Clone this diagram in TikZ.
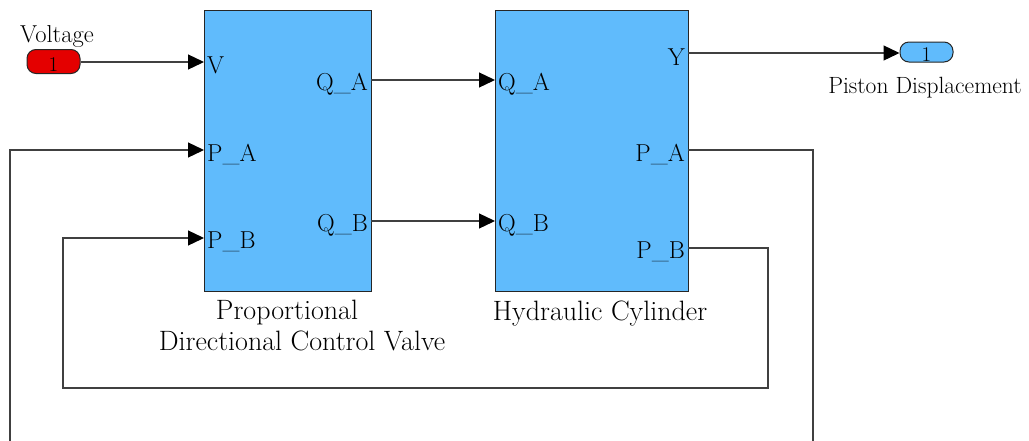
\documentclass[tikz,border=0pt]{standalone}
\usepackage{fontspec}
\usetikzlibrary{arrows.meta}
\definecolor{blockblue}{RGB}{96,187,252}
\definecolor{portred}{RGB}{228,0,0}
\tikzset{
  block/.style={draw=black!85, line width=1.3pt, fill=blockblue, minimum width=#1, minimum height=281pt, inner sep=0pt},
  port/.style={draw=black!85, line width=1pt, rounded corners=9pt, minimum width=53pt, inner sep=0pt},
  plabel/.style={inner sep=0pt, font=\fontsize{24.5}{28}\selectfont},
  bname/.style={inner sep=0pt, anchor=base, font=\fontsize{28}{31}\selectfont},
  sig/.style={draw=black!75, line width=1.3pt},
  arr/.style={sig, -{Triangle[length=16pt,width=15pt,color=black]}}
}
\begin{document}
\begin{tikzpicture}[x=1pt,y=-1pt]
\useasboundingbox (0,0) rectangle (1029,440);
\clip (0,0) rectangle (1029,440);

% blocks
\node[block=167pt, anchor=north west] (valve) at (204,10) {};
\node[block=193pt, anchor=north west] (cyl) at (495,10) {};

% ports of valve
\coordinate (vV)  at (204,62);
\coordinate (vPA) at (204,150);
\coordinate (vPB) at (204,238);
\coordinate (vQA) at (371,80);
\coordinate (vQB) at (371,221);
% ports of cylinder
\coordinate (cQA) at (495,80);
\coordinate (cQB) at (495,221);
\coordinate (cY)  at (688,53);
\coordinate (cPA) at (688,150);
\coordinate (cPB) at (688,248);

% port labels
\node[plabel, anchor=west] at (207,65) {V};
\node[plabel, anchor=west] at (207,154) {P\_A};
\node[plabel, anchor=west] at (207,242) {P\_B};
\node[plabel, anchor=east] at (368,84) {Q\_A};
\node[plabel, anchor=east] at (368,225) {Q\_B};
\node[plabel, anchor=west] at (498,84) {Q\_A};
\node[plabel, anchor=west] at (498,225) {Q\_B};
\node[plabel, anchor=east] at (685,57) {Y};
\node[plabel, anchor=east] at (685,154) {P\_A};
\node[plabel, anchor=east] at (685,252) {P\_B};

% block names
\node[bname] (vname1) at (287,319) {Proportional};
\node[bname] (vname2) at (302,350) {Directional Control Valve};
\node[bname] (cname) at (600,320) {Hydraulic Cylinder};

% inport and outport
\node[port, fill=portred, minimum height=24pt] (inV) at (53.5,61.5) {};
\node[inner sep=0pt, font=\fontsize{21}{21}\selectfont] at (53.5,65) {1};
\node[plabel, anchor=base] (inVlab) at (57,42) {Voltage};

\node[port, fill=blockblue, minimum height=20pt] (outY) at (926.5,52) {};
\node[inner sep=0pt, font=\fontsize{21}{21}\selectfont] at (926.5,55) {1};
\node[plabel, anchor=base, font=\fontsize{23.5}{28}\selectfont] (outYlab) at (925,93) {Piston Displacement};

% connectors
\draw[arr] (inV.east |- vV) -- (vV);
\draw[arr] (vQA) -- (cQA);
\draw[arr] (vQB) -- (cQB);
\draw[arr] (cY) -- (outY.west |- cY);
\draw[arr] (cPB) -- (768,248) -- (768,388) -- (63,388) -- (63,238) -- (vPB);
\draw[arr] (cPA) -- (813,150) -- (813,470) -- (10,470) -- (10,150) -- (vPA);
\end{tikzpicture}
\end{document}
